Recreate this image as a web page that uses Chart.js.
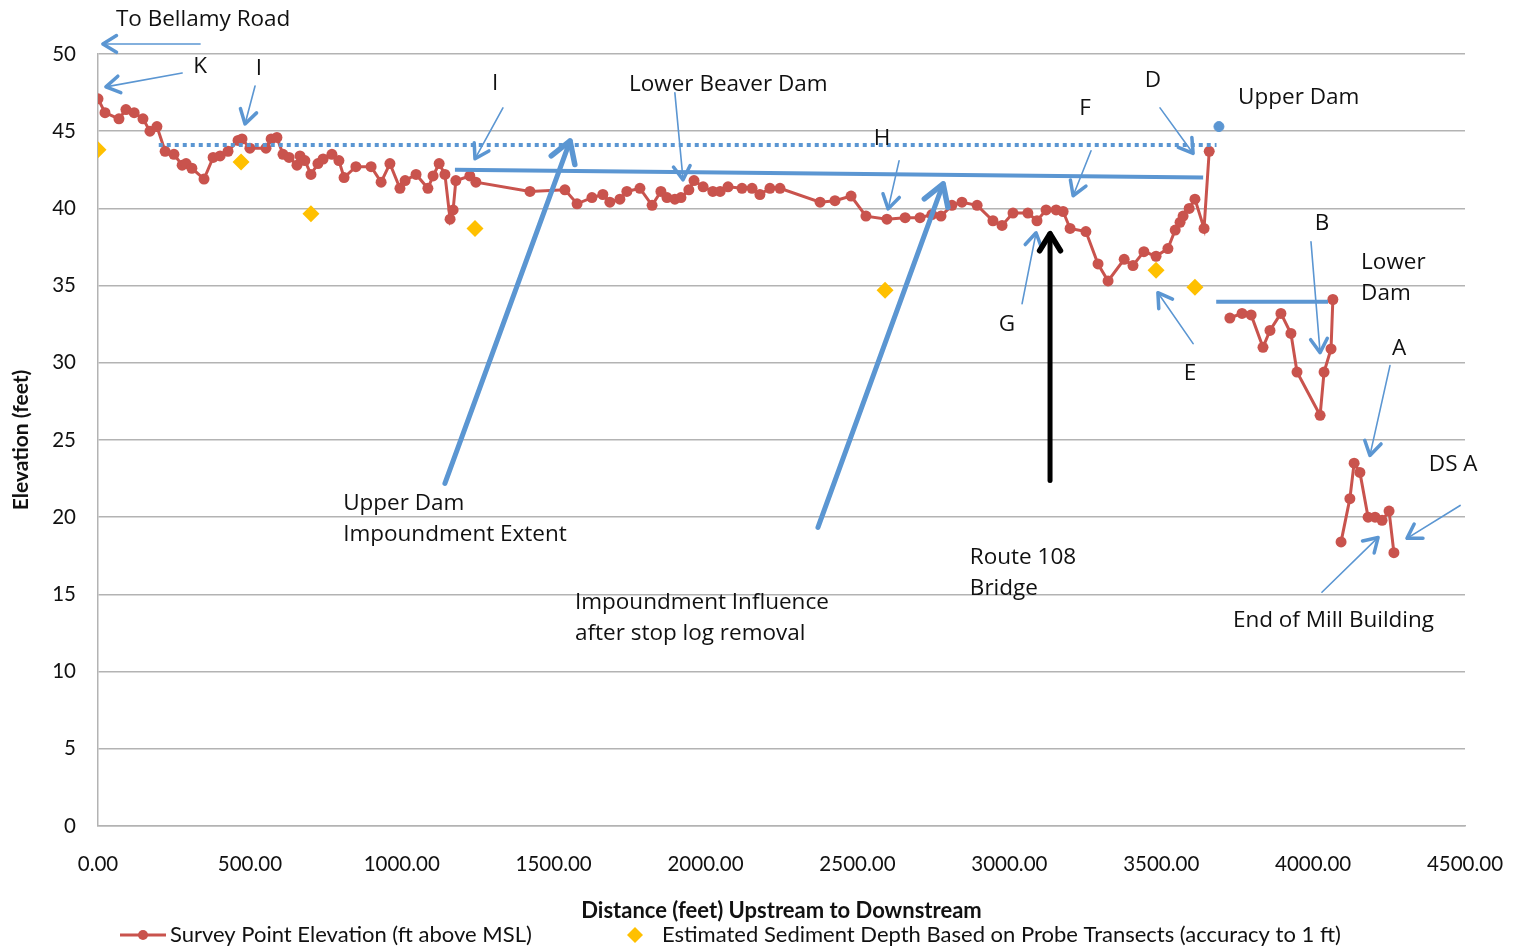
<!DOCTYPE html>
<html lang="en">
<head>
   <meta charset="UTF-8" />
   <title>Stream Profile - Survey Point Elevation</title>
   <style>
      body {
         margin: 0;
         padding: 0;
         background-color: #ffffff;
      }
      #wrap {
         width: 1518px;
         height: 950px;
      }
   </style>
   <script src="https://cdn.jsdelivr.net/npm/chart.js@4.4.1/dist/chart.umd.min.js"></script>
</head>
<body>
   <div id="wrap"><canvas id="profileChart" width="1518" height="950"></canvas></div>

   <script>
      // survey points: distance (ft) upstream to downstream, elevation (ft above MSL)
      // null elevation = gap in the surveyed line
      const surveyDist = [0, 23, 69, 92, 119, 148, 171, 194, 221, 250,
         277, 290, 309, 349, 379, 402, 428, 461, 474, 500,
         553, 570, 589, 609, 629, 655, 665, 681, 701, 724,
         741, 770, 793, 810, 849, 899, 932, 961, 994, 1011,
         1047, 1086, 1103, 1123, 1142, 1159, 1169, 1178, 1224, 1244,
         1422, 1537, 1577, 1626, 1662, 1685, 1718, 1741, 1784, 1824,
         1853, 1873, 1899, 1919, 1945, 1962, 1992, 2024, 2048, 2074,
         2120, 2153, 2179, 2212, 2245, 2377, 2426, 2479, 2528, 2597,
         2657, 2706, 2745, 2775, 2811, 2844, 2894, 2946, 2976, 3012,
         3061, 3091, 3121, 3154, 3177, 3200, 3252, 3292, 3325, 3378,
         3407, 3443, 3483, 3522, 3546, 3562, 3572, 3592, 3611, 3641,
         3658, 3690,
         3726, 3766, 3796, 3835, 3858, 3894, 3927, 3947, 4023, 4036, 4059, 4065, 4075,
         4092, 4121, 4135, 4154, 4181, 4204, 4227, 4250, 4266];
      const surveyElev = [47.1, 46.2, 45.8, 46.4, 46.2, 45.8, 45.0, 45.3, 43.7, 43.5,
         42.8, 42.9, 42.6, 41.9, 43.3, 43.4, 43.7, 44.4, 44.5, 43.9,
         43.9, 44.5, 44.6, 43.5, 43.3, 42.8, 43.4, 43.1, 42.2, 42.9,
         43.2, 43.5, 43.1, 42.0, 42.7, 42.7, 41.7, 42.9, 41.3, 41.8,
         42.2, 41.3, 42.1, 42.9, 42.2, 39.3, 39.9, 41.8, 42.1, 41.7,
         41.1, 41.2, 40.3, 40.7, 40.9, 40.4, 40.6, 41.1, 41.3, 40.2,
         41.1, 40.7, 40.6, 40.7, 41.2, 41.8, 41.4, 41.1, 41.1, 41.4,
         41.3, 41.3, 40.9, 41.3, 41.3, 40.4, 40.5, 40.8, 39.5, 39.3,
         39.4, 39.4, 39.6, 39.5, 40.2, 40.4, 40.2, 39.2, 38.9, 39.7,
         39.7, 39.2, 39.9, 39.9, 39.8, 38.7, 38.5, 36.4, 35.3, 36.7,
         36.3, 37.2, 36.9, 37.4, 38.6, 39.1, 39.5, 40.0, 40.6, 38.7,
         43.7, null,
         32.9, 33.2, 33.1, 31.0, 32.1, 33.2, 31.9, 29.4, 26.6, 29.4, 30.9, 34.1, null,
         18.4, 21.2, 23.5, 22.9, 20.0, 20.0, 19.8, 20.4, 17.7];

      // estimated sediment depth from probe transects
      const sedimentDist = [0, 471, 701, 1241, 2591, 3483, 3611];
      const sedimentElev = [43.8, 43.0, 39.65, 38.7, 34.7, 36.0, 34.9];

      // pool levels drawn in blue
      const upperPoolDist = [200, 3682];
      const upperPoolElev = [44.1, 44.1];
      const beaverPoolDist = [1175, 3638];
      const beaverPoolElev = [42.5, 42.0];
      const lowerPoolDist = [3681, 4049];
      const lowerPoolElev = [33.95, 33.95];
      const upperDamDist = [3690];
      const upperDamElev = [45.3];

      const xTicks = [0, 500, 1000, 1500, 2000, 2500, 3000, 3500, 4000, 4500];
      const yTicks = [0, 5, 10, 15, 20, 25, 30, 35, 40, 45, 50];

      // callout arrows in data units: [dist, elev] tail -> head
      const arrows = [
         { from: [336, 50.65], to: [16, 50.65], kind: 'thin' },
         { from: [277, 48.77], to: [26, 47.87], kind: 'thin' },
         { from: [517, 47.93], to: [484, 45.47], kind: 'thin' },
         { from: [1333, 46.51], to: [1241, 43.21], kind: 'thin' },
         { from: [1899, 47.48], to: [1926, 41.85], kind: 'thin' },
         { from: [2637, 43.08], to: [2601, 39.97], kind: 'thin' },
         { from: [3269, 43.73], to: [3210, 40.82], kind: 'thin' },
         { from: [3496, 46.51], to: [3605, 43.56], kind: 'thin' },
         { from: [3042, 33.83], to: [3088, 38.42], kind: 'thin' },
         { from: [3605, 31.24], to: [3489, 34.54], kind: 'thin' },
         { from: [3993, 37.84], to: [4023, 30.66], kind: 'thin' },
         { from: [4253, 29.82], to: [4187, 24.0], kind: 'thin' },
         { from: [4484, 20.76], to: [4309, 18.63], kind: 'thin' },
         { from: [4029, 15.14], to: [4214, 18.69], kind: 'thin' },
         { from: [1142, 22.19], to: [1554, 44.37], kind: 'thick' },
         { from: [2370, 19.34], to: [2782, 41.59], kind: 'thick' },
         { from: [3134, 22.38], to: [3134, 38.36], kind: 'black' }
      ];

      const notes = [
         { text: 'To Bellamy Road', at: [59, 52.26], align: 'left' },
         { text: 'K', at: [336, 49.16], align: 'center' },
         { text: 'I', at: [530, 49.03], align: 'center' },
         { text: 'I', at: [1307, 48.06], align: 'center' },
         { text: 'Lower Beaver Dam', at: [1748, 47.99], align: 'left' },
         { text: 'D', at: [3473, 48.25], align: 'center' },
         { text: 'Upper Dam', at: [3753, 47.15], align: 'left' },
         { text: 'F', at: [3249, 46.44], align: 'center' },
         { text: 'H', at: [2581, 44.5], align: 'center' },
         { text: 'B', at: [4029, 39.0], align: 'center' },
         { text: 'Lower', at: [4158, 36.48], align: 'left' },
         { text: 'Dam', at: [4158, 34.48], align: 'left' },
         { text: 'G', at: [2992, 32.47], align: 'center' },
         { text: 'E', at: [3595, 29.3], align: 'center' },
         { text: 'A', at: [4283, 30.92], align: 'center' },
         { text: 'DS A', at: [4381, 23.42], align: 'left' },
         { text: 'Upper Dam', at: [807, 20.89], align: 'left' },
         { text: 'Impoundment Extent', at: [807, 18.89], align: 'left' },
         { text: 'Route 108', at: [2870, 17.4], align: 'left' },
         { text: 'Bridge', at: [2870, 15.39], align: 'left' },
         { text: 'Impoundment Influence', at: [1570, 14.49], align: 'left' },
         { text: 'after stop log removal', at: [1570, 12.48], align: 'left' },
         { text: 'End of Mill Building', at: [3736, 13.32], align: 'left' }
      ];

      const RED = '#c9534d';
      const BLUE = '#5b96d2';
      const GOLD = '#ffc000';
      const GRID = '#b3b3b3';

      function toPoints(xs, ys) {
         return xs.map((x, i) => ({ x: x, y: ys[i] }));
      }

      function drawArrow(ctx, x1, y1, x2, y2, color, shaft, head, len) {
         const ang = Math.atan2(y2 - y1, x2 - x1);
         ctx.save();
         ctx.strokeStyle = color;
         ctx.lineCap = 'round';
         ctx.lineJoin = 'round';
         ctx.lineWidth = shaft;
         ctx.beginPath();
         ctx.moveTo(x1, y1);
         ctx.lineTo(x2, y2);
         ctx.stroke();
         ctx.lineWidth = head;
         ctx.beginPath();
         ctx.moveTo(x2 - len * Math.cos(ang - 0.55), y2 - len * Math.sin(ang - 0.55));
         ctx.lineTo(x2, y2);
         ctx.lineTo(x2 - len * Math.cos(ang + 0.55), y2 - len * Math.sin(ang + 0.55));
         ctx.stroke();
         ctx.restore();
      }

      // arrows and text callouts placed through the chart scales
      const calloutPlugin = {
         id: 'callouts',
         afterDatasetsDraw(chart) {
            const { ctx, scales: { x, y } } = chart;
            arrows.forEach(a => {
               const x1 = x.getPixelForValue(a.from[0]);
               const y1 = y.getPixelForValue(a.from[1]);
               const x2 = x.getPixelForValue(a.to[0]);
               const y2 = y.getPixelForValue(a.to[1]);
               if (a.kind === 'thin') drawArrow(ctx, x1, y1, x2, y2, BLUE, 1.6, 3.5, 16);
               else if (a.kind === 'thick') drawArrow(ctx, x1, y1, x2, y2, BLUE, 5, 5.5, 24);
               else drawArrow(ctx, x1, y1, x2, y2, '#000000', 5, 5.5, 20);
            });
            ctx.save();
            ctx.fillStyle = '#111111';
            ctx.font = '22.5px "Open Sans"';
            ctx.textBaseline = 'middle';
            notes.forEach(n => {
               ctx.textAlign = n.align;
               ctx.fillText(n.text, x.getPixelForValue(n.at[0]), y.getPixelForValue(n.at[1]));
            });
            ctx.restore();
         }
      };

      // legend row under the axis title
      const legendPlugin = {
         id: 'bottomLegend',
         afterDraw(chart) {
            const ctx = chart.ctx;
            const ly = 935;
            ctx.save();
            ctx.strokeStyle = RED;
            ctx.lineWidth = 3;
            ctx.beginPath();
            ctx.moveTo(120, ly);
            ctx.lineTo(166, ly);
            ctx.stroke();
            ctx.fillStyle = RED;
            ctx.beginPath();
            ctx.arc(143, ly, 5, 0, Math.PI * 2);
            ctx.fill();

            ctx.fillStyle = GOLD;
            ctx.beginPath();
            ctx.moveTo(635, ly - 8);
            ctx.lineTo(643, ly);
            ctx.lineTo(635, ly + 8);
            ctx.lineTo(627, ly);
            ctx.closePath();
            ctx.fill();

            ctx.fillStyle = '#111111';
            ctx.font = '22px Lato';
            ctx.textBaseline = 'middle';
            ctx.textAlign = 'left';
            ctx.fillText('Survey Point Elevation (ft above MSL)', 170, ly);
            ctx.fillText('Estimated Sediment Depth Based on Probe Transects (accuracy to 1 ft)', 662, ly);
            ctx.restore();
         }
      };

      const ctx = document.getElementById('profileChart').getContext('2d');
      new Chart(ctx, {
         type: 'scatter',
         data: {
            datasets: [
               {
                  label: 'Upper dam pool',
                  data: toPoints(upperPoolDist, upperPoolElev),
                  showLine: true,
                  borderColor: BLUE,
                  borderWidth: 4,
                  borderDash: [4, 4],
                  pointRadius: 0
               },
               {
                  label: 'Lower beaver dam pool',
                  data: toPoints(beaverPoolDist, beaverPoolElev),
                  showLine: true,
                  borderColor: BLUE,
                  borderWidth: 4,
                  pointRadius: 0
               },
               {
                  label: 'Lower dam pool',
                  data: toPoints(lowerPoolDist, lowerPoolElev),
                  showLine: true,
                  borderColor: BLUE,
                  borderWidth: 4,
                  pointRadius: 0
               },
               {
                  label: 'Upper Dam',
                  data: toPoints(upperDamDist, upperDamElev),
                  backgroundColor: BLUE,
                  borderColor: BLUE,
                  pointRadius: 5
               },
               {
                  label: 'Survey Point Elevation (ft above MSL)',
                  data: toPoints(surveyDist, surveyElev),
                  showLine: true,
                  spanGaps: false,
                  borderColor: RED,
                  borderWidth: 3,
                  backgroundColor: RED,
                  pointBackgroundColor: RED,
                  pointBorderWidth: 0,
                  pointRadius: 5.5
               },
               {
                  label: 'Estimated Sediment Depth Based on Probe Transects (accuracy to 1 ft)',
                  data: toPoints(sedimentDist, sedimentElev),
                  pointStyle: 'rectRot',
                  backgroundColor: GOLD,
                  borderColor: GOLD,
                  pointBorderWidth: 0,
                  pointRadius: 8.5
               }
            ]
         },
         options: {
            responsive: false,
            animation: false,
            devicePixelRatio: 1,
            layout: {
               padding: { top: 54, right: 53, bottom: 26, left: 0 }
            },
            plugins: {
               legend: { display: false },
               tooltip: { enabled: false }
            },
            scales: {
               x: {
                  type: 'linear',
                  min: 0,
                  max: 4500,
                  afterBuildTicks: s => { s.ticks = xTicks.map(v => ({ value: v })); },
                  afterFit: s => {
                     s.height = 98;
                     s.paddingLeft = 0;
                     s.paddingRight = 0;
                  },
                  grid: { display: false, drawTicks: false },
                  border: { display: true, color: GRID, width: 1.5 },
                  ticks: {
                     padding: 26,
                     color: '#111111',
                     font: { family: 'Lato', size: 20.5 },
                     callback: v => v.toFixed(2)
                  },
                  title: {
                     display: true,
                     text: 'Distance (feet) Upstream to Downstream',
                     color: '#111111',
                     font: { family: 'Lato', size: 22, weight: 'bold' },
                     padding: { top: 0, bottom: 0 }
                  }
               },
               y: {
                  min: 0,
                  max: 50,
                  afterBuildTicks: s => { s.ticks = yTicks.map(v => ({ value: v })); },
                  afterFit: s => {
                     s.width = 98;
                     s.paddingTop = 0;
                     s.paddingBottom = 0;
                  },
                  grid: { color: GRID, lineWidth: 1.5, drawTicks: false },
                  border: { display: true, color: GRID, width: 1.5 },
                  ticks: {
                     padding: 22,
                     color: '#111111',
                     font: { family: 'Lato', size: 20.5 }
                  },
                  title: {
                     display: true,
                     text: 'Elevation (feet)',
                     color: '#111111',
                     font: { family: 'Lato', size: 21, weight: 'bold' },
                     padding: { top: 9, bottom: 0 }
                  }
               }
            }
         },
         plugins: [calloutPlugin, legendPlugin]
      });
   </script>
</body>
</html>
